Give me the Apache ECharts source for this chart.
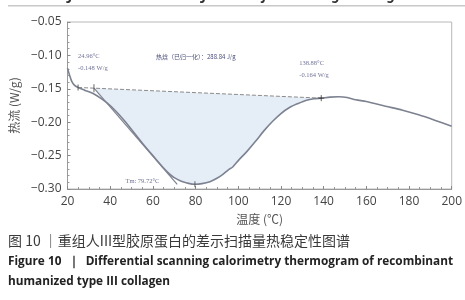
<!DOCTYPE html>
<html>
<head>
<meta charset="utf-8">
<script src="https://cdn.jsdelivr.net/npm/echarts@6/dist/echarts.min.js"></script>
<style>
  html, body { margin: 0; padding: 0; background: #fff; }
  #dscChart { width: 465px; height: 300px; }
</style>
</head>
<body>
<div id="dscChart"></div>
<script>
// 温度 (℃) / 热流 (W/g)
var curveT = [20, 21, 22, 23.2, 24.96, 28, 32, 36, 40, 44, 47, 50, 55, 60, 65, 68, 70, 73, 76, 79.7, 83, 86.7, 90, 92.8, 95.5, 97.4, 100.4, 104, 108, 112, 116, 120, 124, 128, 132, 135.5, 138.88, 143, 147, 151, 155, 160, 169, 177, 184.5, 192, 200];
var curveV = [-0.119, -0.130, -0.139, -0.1445, -0.148, -0.152, -0.157, -0.165, -0.175, -0.188, -0.199, -0.211, -0.231, -0.250, -0.2685, -0.278, -0.283, -0.288, -0.291, -0.293, -0.292, -0.289, -0.284, -0.278, -0.271, -0.267, -0.256, -0.244, -0.229, -0.213, -0.199, -0.187, -0.178, -0.172, -0.167, -0.1648, -0.164, -0.1625, -0.162, -0.163, -0.1665, -0.169, -0.176, -0.182, -0.189, -0.197, -0.206];

// 基线与切线端点
var baseLine = [[24.96, -0.148], [138.88, -0.164]];
var tangentLine = [[32.4, -0.149], [71.4, -0.293]];
var onsetPt = [24.96, -0.148];
var endPt = [138.88, -0.164];
var tmPt = [79.7, -0.293];

var xTicks = [20, 200, 20];
var yTicks = [-0.30, -0.05, 0.05];

var lineColor = '#7d8291';
var noteColor = '#4b4f7a';
var noteFont = 'Liberation Serif';

var curveData = curveT.map(function (t, i) { return [t, curveV[i]]; });

// 积分面积：基线 + 曲线（50℃ 以后）回到切线起点
var fillPts = [tangentLine[0], baseLine[1]].concat(
    curveData.filter(function (p) { return p[0] >= 50 && p[0] <= 138.88; }).reverse()
);

var dscChart = function () {
    var myChart = echarts.init(document.getElementById('dscChart'));
    var option = {
        animation: false,
        grid: {
            show: true,
            left: 58,
            right: 13,
            top: 22,
            bottom: 111,
            borderColor: '#b8b8b8',
            borderWidth: 1
        },
        title: {
            text: '热焓（已归一化）：288.84 J/g',
            left: 156,
            top: 54,
            padding: 0,
            textStyle: {
                fontFamily: 'Noto Sans CJK SC',
                fontSize: 6,
                fontWeight: 'normal',
                color: noteColor
            }
        },
        graphic: [
            {
                type: 'text',
                left: 24,
                top: -11,
                style: {
                    text: 'www.CJTER.com     Chinese Journal of Tissue Engineering Research',
                    font: 'italic bold 14px "Noto Sans"',
                    fill: '#333'
                }
            },
            {
                type: 'rect',
                shape: { x: 8, y: 5, width: 457, height: 1.5 },
                style: { fill: '#c8c8c8' }
            },
            {
                type: 'text',
                left: 8,
                top: 234,
                style: {
                    text: '图 10 ｜重组人III型胶原蛋白的差示扫描量热稳定性图谱',
                    font: '14px "Noto Sans CJK SC"',
                    fill: '#3a3a3a'
                }
            },
            {
                type: 'text',
                left: 8,
                top: 256,
                style: {
                    text: 'Figure 10  ｜  Differential scanning calorimetry thermogram of recombinant',
                    font: 'bold 11.8px "Open Sans"',
                    fill: '#222'
                }
            },
            {
                type: 'text',
                left: 8,
                top: 276,
                style: {
                    text: 'humanized type III collagen',
                    font: 'bold 11.8px "Open Sans"',
                    fill: '#222'
                }
            }
        ],
        xAxis: {
            type: 'value',
            min: xTicks[0],
            max: xTicks[1],
            interval: xTicks[2],
            name: '温度 (℃)',
            nameLocation: 'middle',
            nameGap: 24,
            nameTextStyle: {
                fontFamily: 'Noto Sans CJK SC',
                fontSize: 12,
                color: '#555'
            },
            axisLine: { lineStyle: { color: '#999' } },
            axisTick: { inside: true, length: 3, lineStyle: { color: '#888' } },
            minorTick: { show: true, splitNumber: 4, length: 2, lineStyle: { color: '#999' } },
            axisLabel: {
                fontFamily: 'Open Sans',
                fontSize: 12,
                color: '#444',
                margin: 7
            },
            splitLine: { show: false }
        },
        yAxis: {
            type: 'value',
            min: yTicks[0],
            max: yTicks[1],
            interval: yTicks[2],
            name: '热流 (W/g)',
            nameLocation: 'middle',
            nameGap: 42,
            nameTextStyle: {
                fontFamily: 'Noto Sans CJK SC',
                fontSize: 12,
                color: '#555'
            },
            axisLine: { show: true, lineStyle: { color: '#999' } },
            axisTick: { inside: true, length: 3, lineStyle: { color: '#888' } },
            minorTick: { show: true, splitNumber: 5, length: 2, lineStyle: { color: '#999' } },
            axisLabel: {
                fontFamily: 'Open Sans',
                fontSize: 12,
                color: '#444',
                margin: 6,
                formatter: function (v) {
                    return '\u2212' + Math.abs(v).toFixed(2);
                }
            },
            splitLine: { show: false }
        },
        series: [
            {
                //积分面积
                type: 'custom',
                z: 1,
                silent: true,
                data: fillPts,
                encode: { x: 0, y: 1 },
                renderItem: function (params, api) {
                    if (params.dataIndex !== 0) return null;
                    var pts = fillPts.map(function (p) { return api.coord(p); });
                    return {
                        type: 'polygon',
                        shape: { points: pts },
                        style: { fill: '#e5edf7', stroke: null }
                    };
                }
            },
            {
                //基线
                type: 'line',
                z: 3,
                data: baseLine,
                symbol: 'none',
                lineStyle: { color: '#8a8a8a', width: 1, type: [4, 2] }
            },
            {
                //切线
                type: 'line',
                z: 3,
                data: tangentLine,
                symbol: 'none',
                lineStyle: { color: lineColor, width: 1.2 }
            },
            {
                //DSC 曲线
                type: 'line',
                z: 4,
                data: curveData,
                smooth: 0.3,
                symbol: 'none',
                lineStyle: { color: lineColor, width: 1.6 }
            },
            {
                //标注点
                type: 'scatter',
                z: 5,
                symbol: 'rect',
                symbolSize: [1, 6],
                itemStyle: { color: '#444' },
                data: [
                    {
                        value: onsetPt,
                        label: {
                            show: true,
                            position: 'top',
                            align: 'left',
                            offset: [0, -5],
                            formatter: '24.96°C\n-0.148 W/g',
                            fontFamily: noteFont,
                            fontSize: 6.5,
                            lineHeight: 12,
                            color: noteColor
                        }
                    },
                    { value: tangentLine[0], symbolSize: [1, 8] },
                    {
                        value: tmPt,
                        label: {
                            show: true,
                            position: 'left',
                            align: 'right',
                            offset: [-30, -3],
                            formatter: 'Tm: 79.72°C',
                            fontFamily: noteFont,
                            fontSize: 6.5,
                            color: noteColor
                        }
                    },
                    {
                        value: endPt,
                        symbol: 'path://M0,4 L8,4 M4,0 L4,8',
                        symbolSize: 6,
                        itemStyle: { color: 'none', borderColor: '#333', borderWidth: 1 },
                        label: {
                            show: true,
                            position: 'top',
                            align: 'left',
                            offset: [-22, -6],
                            formatter: '138.88°C\n-0.164 W/g',
                            fontFamily: noteFont,
                            fontSize: 6.5,
                            lineHeight: 12,
                            color: noteColor
                        }
                    }
                ]
            }
        ]
    };
    myChart.setOption(option);
};

dscChart();
</script>
</body>
</html>
